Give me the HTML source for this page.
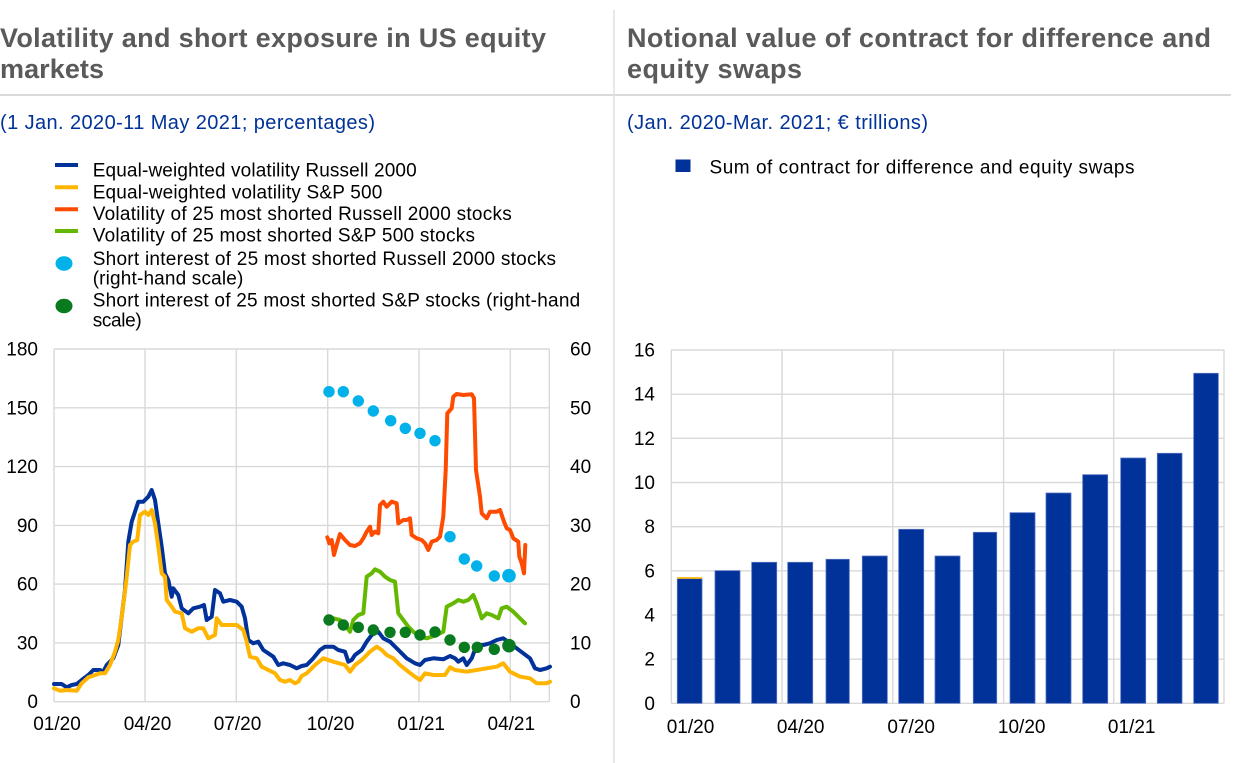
<!DOCTYPE html>
<html><head><meta charset="utf-8"><style>
html,body{margin:0;padding:0;background:#fff;}
svg{display:block;}
text{font-family:"Liberation Sans",Arial,sans-serif;}
</style></head><body>
<svg width="1240" height="763" viewBox="0 0 1240 763" xmlns="http://www.w3.org/2000/svg">
<!-- separators -->
<line x1="0" y1="95" x2="1231" y2="95" stroke="#d9d9d9" stroke-width="2"/>
<line x1="614" y1="10" x2="614" y2="763" stroke="#e0e0e0" stroke-width="1.5"/>

<!-- titles -->
<g font-weight="bold" font-size="27" fill="#5a5a5a">
<text x="0" y="47" textLength="546" lengthAdjust="spacing">Volatility and short exposure in US equity</text>
<text x="0" y="78" textLength="104" lengthAdjust="spacing">markets</text>
<text x="627" y="47" textLength="584" lengthAdjust="spacing">Notional value of contract for difference and</text>
<text x="627" y="78" textLength="175" lengthAdjust="spacing">equity swaps</text>
</g>
<g font-size="20" fill="#003299">
<text x="0" y="129" textLength="375" lengthAdjust="spacing">(1 Jan. 2020-11 May 2021; percentages)</text>
<text x="627" y="129" textLength="301" lengthAdjust="spacing">(Jan. 2020-Mar. 2021; € trillions)</text>
</g>

<!-- left legend -->
<g stroke-width="4">
<line x1="55" y1="165" x2="78" y2="165" stroke="#003299"/>
<line x1="55" y1="187.3" x2="78" y2="187.3" stroke="#ffb400"/>
<line x1="55" y1="209.3" x2="78" y2="209.3" stroke="#ff4b00"/>
<line x1="55" y1="231" x2="78" y2="231" stroke="#65b800"/>
</g>
<ellipse cx="64" cy="263.5" rx="8.5" ry="7.2" fill="#00b1ea"/>
<ellipse cx="64" cy="306" rx="8.5" ry="7.2" fill="#0a7a1e"/>
<g font-size="19" fill="#000">
<text x="92.7" y="176.7" textLength="324" lengthAdjust="spacing">Equal-weighted volatility Russell 2000</text>
<text x="92.7" y="198.3" textLength="289.6" lengthAdjust="spacing">Equal-weighted volatility S&amp;P 500</text>
<text x="92.7" y="220" textLength="419" lengthAdjust="spacing">Volatility of 25 most shorted Russell 2000 stocks</text>
<text x="92.7" y="241.7" textLength="382.3" lengthAdjust="spacing">Volatility of 25 most shorted S&amp;P 500 stocks</text>
<text x="92.7" y="265" textLength="463.3" lengthAdjust="spacing">Short interest of 25 most shorted Russell 2000 stocks</text>
<text x="92.7" y="284.5" textLength="150.6" lengthAdjust="spacing">(right-hand scale)</text>
<text x="92.7" y="306.7" textLength="487.5" lengthAdjust="spacing">Short interest of 25 most shorted S&amp;P stocks (right-hand</text>
<text x="92.7" y="326.7" textLength="49" lengthAdjust="spacing">scale)</text>
</g>

<!-- right legend -->
<rect x="675.5" y="159.5" width="15" height="12.5" fill="#003299"/>
<text x="709.5" y="173.3" font-size="19" fill="#000" textLength="425" lengthAdjust="spacing">Sum of contract for difference and equity swaps</text>

<!-- LEFT CHART grid -->
<g stroke="#d9d9d9" stroke-width="1.4" fill="none">
<line x1="54" y1="349" x2="549.3" y2="349"/>
<line x1="54" y1="407.8" x2="549.3" y2="407.8"/>
<line x1="54" y1="466.6" x2="549.3" y2="466.6"/>
<line x1="54" y1="525.4" x2="549.3" y2="525.4"/>
<line x1="54" y1="584.1" x2="549.3" y2="584.1"/>
<line x1="54" y1="642.9" x2="549.3" y2="642.9"/>
<line x1="54" y1="701.7" x2="549.3" y2="701.7"/>
<line x1="54" y1="349" x2="54" y2="701.7"/>
<line x1="145" y1="349" x2="145" y2="701.7"/>
<line x1="236.3" y1="349" x2="236.3" y2="701.7"/>
<line x1="327.7" y1="349" x2="327.7" y2="701.7"/>
<line x1="419" y1="349" x2="419" y2="701.7"/>
<line x1="510.3" y1="349" x2="510.3" y2="701.7"/>
<line x1="549.3" y1="349" x2="549.3" y2="701.7"/>
</g>
<g font-size="19" fill="#000" text-anchor="end">
<text x="38" y="355.5">180</text>
<text x="38" y="414.3">150</text>
<text x="38" y="473.1">120</text>
<text x="38" y="531.9">90</text>
<text x="38" y="590.6">60</text>
<text x="38" y="649.4">30</text>
<text x="38" y="708.2">0</text>
</g>
<g font-size="19" fill="#000" text-anchor="start">
<text x="570" y="355.5">60</text>
<text x="570" y="414.3">50</text>
<text x="570" y="473.1">40</text>
<text x="570" y="531.9">30</text>
<text x="570" y="590.6">20</text>
<text x="570" y="649.4">10</text>
<text x="570" y="708.2">0</text>
</g>
<g font-size="19" fill="#000" text-anchor="middle">
<text x="57" y="730">01/20</text>
<text x="147.5" y="730">04/20</text>
<text x="237.5" y="730">07/20</text>
<text x="330.5" y="730">10/20</text>
<text x="421.2" y="730">01/21</text>
<text x="511.3" y="730">04/21</text>
</g>

<!-- series -->
<g fill="none" stroke-width="4" stroke-linejoin="round" stroke-linecap="round">
<polyline stroke="#003299" points="54,684 61.7,684 66.7,687.3 71.7,685 76.7,684 81.7,680 88.3,675 93.3,670 100,670 103.3,671.7 106.7,665 113.3,658.3 118.3,645 121.7,616.7 125,590 128.3,541.7 131.7,521.7 135,511.7 138.3,501.7 143.3,501.7 148.3,496.7 151.7,490 155,500 158.3,523.3 161.7,546.7 165,573.3 168.3,580 171.7,596.7 173.3,588.3 178.3,595 181.7,608.3 188.3,613.3 193.3,608.3 200,606.7 204,605 206.7,620 211.7,616.7 215,590 220,593.3 223.3,601.7 230,600 236.7,601.7 241.7,606.7 245,618.3 248.3,640 253.3,643.3 258.3,641.7 263.3,650 268.3,653.3 273.3,656.7 278.3,665 283.3,663.3 290,665 296.7,668.3 301.7,666 306.7,665 313.3,658.3 320,650 325,646.7 333.3,646.7 338.3,650 345,651.7 348.3,661.7 351.7,660 355,655 361.7,650 366.7,641.7 371.7,635 378.3,631.7 383.3,638.3 390,641.7 396.7,648.3 401.7,653.3 406.7,658.3 415,663.3 420,665 425,660 433.3,658.3 443.3,659.3 450,656 455,658.3 458.3,661.7 463.3,658.3 466.7,665 471.7,658.3 476.7,645 483.3,645 490,643.3 496.7,640 503.3,638.3 510,643.3 516.7,648.3 523.3,653.3 530,658.3 535,668.3 540,670 546.7,668.3 550,666.7"/>
<polyline stroke="#ffb400" points="54,688.3 60,690.7 66.7,690 76.7,690.7 81.7,683.3 88.3,677.3 100,673.3 105,673.3 110,665 115,651.7 118.3,640 121.7,616.7 126,583.3 130,545 133.3,541.7 137.3,540 140,515 145,511.7 148.3,515 151.7,510 155,523.3 158.3,546.7 161.7,573.3 165,576.7 166.7,600 171.7,606.7 175,611.7 181.7,613.3 185,628.3 191.7,631.7 198.3,628.3 203.3,628.3 208.3,638.3 215,635 216.7,618.3 221.7,625 230,625 236.7,625 243.3,630 246.7,641.7 250,656.7 256.7,658.3 261.7,666.7 268.3,670 275,673.3 280,680 285,681.7 290,680 295,683.3 298.3,681.7 301.7,676 306.7,673.3 315,665 323.3,658.3 333.3,661.7 345,665 350,671.7 355,665 361.7,660 370,651.7 376.7,646.7 381.7,650 386.7,655 393.3,658.3 400,665 408.3,671.7 415,676.7 420,680 425,673.3 433.3,675 445,675 450,667.3 455,670 466.7,671.7 476.7,670 486.7,668.3 496.7,666.7 503.3,663.3 510,671.7 520,676.7 530,678.3 536.7,683.3 546.7,683.3 550,681.7"/>
<polyline stroke="#ff4b00" points="327.3,537.3 329.3,543.3 331.7,540 334,555 336.7,545 340,534 345,540 350,545 355,546 360,543.3 363.3,538.3 366.7,531.7 370,526.7 371.7,535 375,531.7 378.3,533.3 380,505 383.3,501.7 386.7,506.7 391.7,501.7 396.7,503.3 398.3,523.3 403.3,520 406.7,520 410,518.3 411.7,535 416.7,538.3 421.7,540 425,543.3 428.3,550 431.7,541.7 436.7,540 440,536.7 443.3,516.7 445.7,470 447.3,413.3 451.7,408.3 453.3,396.7 456.7,394 463.3,395 471.7,394.3 474,398.3 476,470 480,496.7 481.7,513.3 486.7,518.3 490,511.7 496.7,511.7 500,510 504,521.7 506.7,528.3 510,530 513.3,538.3 518.3,541.7 519.3,556.7 521.7,563.3 524,573.3 525.3,545"/>
<polyline stroke="#65b800" points="327.3,616.7 333.3,618.3 340,620 345,625 350,631.7 353.3,620 358.3,615 363.3,613.3 366.7,576.7 371.7,573.3 375,569.3 380,571.7 385,576.7 390,580 395,581.7 398.3,613.3 403.3,620 408.3,626.7 413.3,631.7 420,636.7 426.7,638.3 431.7,636.7 436.7,635 443.3,631.7 446.7,606.7 453.3,603.3 458.3,600 463.3,601.7 468.3,600 473.3,595 476.7,603.3 481.7,618.3 486.7,613.3 491.7,615 498.3,618.3 501.7,608.3 506.7,606.7 513.3,611.7 518.3,616.7 525,623.3"/>
</g>
<g fill="#00b1ea">
<circle cx="329" cy="391.7" r="5.7"/>
<circle cx="343.3" cy="391.7" r="5.7"/>
<circle cx="358.3" cy="401" r="5.7"/>
<circle cx="373.3" cy="411" r="5.7"/>
<circle cx="390.7" cy="420.7" r="5.7"/>
<circle cx="405.3" cy="428.3" r="5.7"/>
<circle cx="420" cy="433.3" r="5.7"/>
<circle cx="435" cy="440.7" r="5.7"/>
<circle cx="450" cy="536.7" r="5.7"/>
<circle cx="464.3" cy="559" r="5.7"/>
<circle cx="476.7" cy="566" r="5.7"/>
<circle cx="494.3" cy="576" r="5.7"/>
<circle cx="509" cy="575.7" r="6.8"/>
</g>
<g fill="#0a7a1e">
<circle cx="329" cy="620" r="5.7"/>
<circle cx="343.3" cy="625" r="5.7"/>
<circle cx="358.3" cy="627.3" r="5.7"/>
<circle cx="373.3" cy="630" r="5.7"/>
<circle cx="390" cy="632.3" r="5.7"/>
<circle cx="405.3" cy="632.3" r="5.7"/>
<circle cx="420" cy="635" r="5.7"/>
<circle cx="435" cy="632" r="5.7"/>
<circle cx="450" cy="640" r="5.7"/>
<circle cx="464.3" cy="647.3" r="5.7"/>
<circle cx="477.3" cy="647.3" r="5.7"/>
<circle cx="494.3" cy="649.3" r="5.7"/>
<circle cx="509" cy="645.7" r="6.8"/>
</g>

<!-- RIGHT CHART grid -->
<g stroke="#d9d9d9" stroke-width="1.4" fill="none">
<line x1="671.3" y1="350" x2="1224" y2="350"/>
<line x1="671.3" y1="394.2" x2="1224" y2="394.2"/>
<line x1="671.3" y1="438.3" x2="1224" y2="438.3"/>
<line x1="671.3" y1="482.5" x2="1224" y2="482.5"/>
<line x1="671.3" y1="526.7" x2="1224" y2="526.7"/>
<line x1="671.3" y1="570.8" x2="1224" y2="570.8"/>
<line x1="671.3" y1="615" x2="1224" y2="615"/>
<line x1="671.3" y1="659.2" x2="1224" y2="659.2"/>
<line x1="671.3" y1="703.3" x2="1224" y2="703.3"/>
<line x1="671.3" y1="350" x2="671.3" y2="703.3"/>
<line x1="782" y1="350" x2="782" y2="703.3"/>
<line x1="892.8" y1="350" x2="892.8" y2="703.3"/>
<line x1="1003.6" y1="350" x2="1003.6" y2="703.3"/>
<line x1="1113.7" y1="350" x2="1113.7" y2="703.3"/>
<line x1="1224" y1="350" x2="1224" y2="703.3"/>
</g>
<g fill="#003299" stroke="#5572c0" stroke-width="0.8">
<rect x="677.3" y="578.7" width="24.7" height="124.6"/>
<rect x="715" y="570.7" width="25" height="132.6"/>
<rect x="751.7" y="562.3" width="25" height="141"/>
<rect x="787.7" y="562.3" width="25" height="141"/>
<rect x="826" y="559.3" width="23.3" height="144"/>
<rect x="862.3" y="556" width="25" height="147.3"/>
<rect x="898.7" y="529.3" width="25" height="174"/>
<rect x="935" y="556" width="25" height="147.3"/>
<rect x="973.3" y="532.3" width="23.4" height="171"/>
<rect x="1010" y="512.7" width="25" height="190.6"/>
<rect x="1046" y="493" width="25" height="210.3"/>
<rect x="1082.7" y="474.7" width="25" height="228.6"/>
<rect x="1120.7" y="458" width="25" height="245.3"/>
<rect x="1157.3" y="453.3" width="24.7" height="250"/>
<rect x="1193.7" y="373.3" width="24.6" height="330"/>
</g>
<rect x="677.3" y="577.2" width="24.7" height="1.6" fill="#ffb400"/>
<g font-size="19" fill="#000" text-anchor="end">
<text x="655" y="356.5">16</text>
<text x="655" y="400.7">14</text>
<text x="655" y="444.8">12</text>
<text x="655" y="489">10</text>
<text x="655" y="533.2">8</text>
<text x="655" y="577.3">6</text>
<text x="655" y="621.5">4</text>
<text x="655" y="665.7">2</text>
<text x="655" y="709.8">0</text>
</g>
<g font-size="19" fill="#000" text-anchor="middle">
<text x="690.5" y="733">01/20</text>
<text x="800.7" y="733">04/20</text>
<text x="911.2" y="733">07/20</text>
<text x="1021.7" y="733">10/20</text>
<text x="1131.7" y="733">01/21</text>
</g>
</svg>
</body></html>
